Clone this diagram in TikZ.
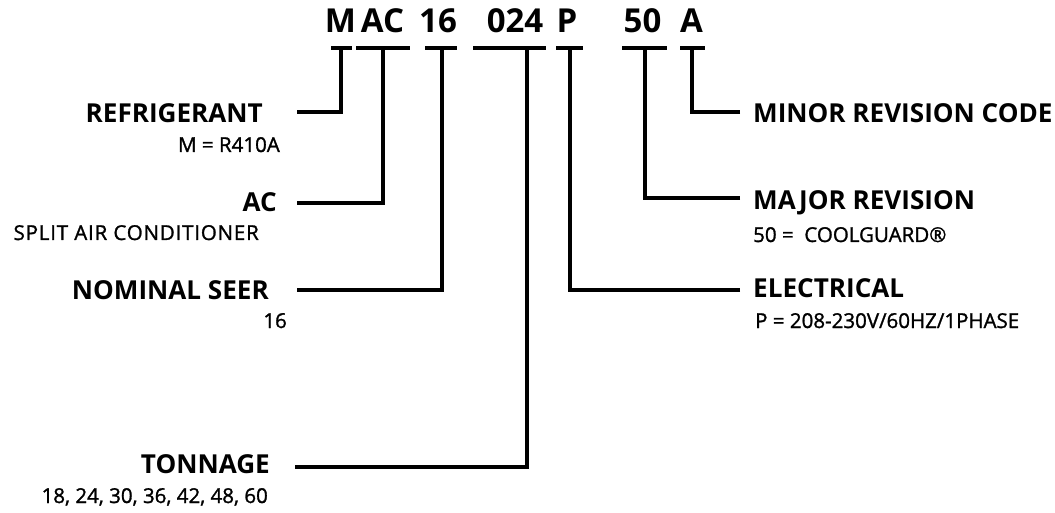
\documentclass[tikz,border=0pt]{standalone}
\usepackage{fontspec}
\setmainfont{Open Sans}
\newfontfamily\semib[FakeBold=1.3]{Open Sans}
\newfontfamily\semibwide[FakeBold=1.3,LetterSpace=4]{Open Sans}
\begin{document}
\begin{tikzpicture}[x=1pt,y=-1pt,
  titletxt/.style={inner sep=0pt,font=\bfseries\fontsize{33}{38}\selectfont,anchor=base},
  headtxt/.style={inner sep=0pt,font=\bfseries\fontsize{26.1}{30}\selectfont},
  subtxt/.style={inner sep=0pt,font=\semib\fontsize{20.5}{24}\selectfont},
  subwide/.style={inner sep=0pt,font=\semibwide\fontsize{20.5}{24}\selectfont},
  conn/.style={line width=3.8pt,line cap=butt,line join=miter}]
\useasboundingbox (0,0) rectangle (1055,513);
% title segments
\node[titletxt] (tM) at (340.5,33) {M};
\node[titletxt] (tAC) at (382.5,33) {AC};
\node[titletxt] (t16) at (438,33) {16};
\node[titletxt] (t024) at (515,33) {024};
\node[titletxt] (tP) at (567,33) {P};
\node[titletxt] (t50) at (642.5,33) {50};
\node[titletxt] (tA) at (691.5,33) {A};
% left labels
\node[headtxt,anchor=base east] (ref) at (263,123) {REFRIGERANT};
\node[subtxt,anchor=base east] (refs) at (280,152) {M = R410A};
\node[headtxt,anchor=base east] (ac) at (277,212) {AC};
\node[subwide,anchor=base east] (acs) at (259,240) {SPLIT AIR CONDITIONER};
\node[headtxt,anchor=base east] (seer) at (269,299) {NOMINAL SEER};
\node[subtxt,anchor=base east] (seers) at (287,328) {16};
\node[headtxt,anchor=base east] (ton) at (270,473) {TONNAGE};
\node[subtxt,anchor=base east] (tons) at (268,503) {18, 24, 30, 36, 42, 48, 60};
% right labels
\node[headtxt,anchor=base west] (minor) at (753,123) {MINOR REVISION CODE};
\node[headtxt,anchor=base west] (major) at (753,210) {MAJOR REVISION};
\node[subtxt,anchor=base west] (majors) at (753,242) {50 =\ \ COOLGUARD®};
\node[headtxt,anchor=base west] (elec) at (753,298) {ELECTRICAL};
\node[subtxt,anchor=base west] (elecs) at (755,328) {P = 208-230V/60HZ/1PHASE};
% bar coordinates
\coordinate (bM1) at (331,48); \coordinate (bM2) at (352,48); \coordinate (vM) at (341,48);
\coordinate (bAC1) at (356,48); \coordinate (bAC2) at (410,48); \coordinate (vAC) at (383,48);
\coordinate (b161) at (425,48); \coordinate (b162) at (457,48); \coordinate (v16) at (442,48);
\coordinate (b0241) at (473,48); \coordinate (b0242) at (546,48); \coordinate (v024) at (527,48);
\coordinate (bP1) at (556,48); \coordinate (bP2) at (583,48); \coordinate (vP) at (570,48);
\coordinate (b501) at (622,48); \coordinate (b502) at (667,48); \coordinate (v50) at (645,48);
\coordinate (bA1) at (680,48); \coordinate (bA2) at (705,48); \coordinate (vA) at (692,48);
% line ends
\coordinate (eRef) at (297,112);
\coordinate (eAC) at (297,203);
\coordinate (eSeer) at (297,290);
\coordinate (eTon) at (295,467);
\coordinate (eElec) at (740,290);
\coordinate (eMajor) at (740,198);
\coordinate (eMinor) at (740,112);
% bars
\foreach \b in {M,AC,16,024,P,50,A}{\draw[conn] (b\b1) -- (b\b2);}
% connectors
\draw[conn] (eRef) -| (vM);
\draw[conn] (eAC) -| (vAC);
\draw[conn] (eSeer) -| (v16);
\draw[conn] (eTon) -| (v024);
\draw[conn] (eElec) -| (vP);
\draw[conn] (eMajor) -| (v50);
\draw[conn] (eMinor) -| (vA);
\end{tikzpicture}
\end{document}
